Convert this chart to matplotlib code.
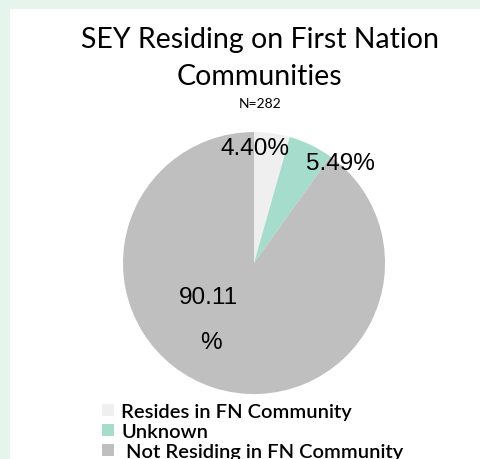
import matplotlib.pyplot as plt
from matplotlib.patches import Rectangle

# data
categories = ["Resides in FN Community", "Unknown", " Not Residing in FN Community"]
values = [4.40, 5.49, 90.11]
colors = ["#efefef", "#a6dccb", "#bfbfbf"]
title_lines = ["SEY Residing on First Nation", "Communities"]
subtitle = "N=282"

plt.rcParams["font.family"] = ["Lato", "DejaVu Sans"]

fig = plt.figure(figsize=(4.81, 4.60), dpi=100, facecolor="#e6f4ee")

# white panel inside the mint border
fig.patches.append(Rectangle((10 / 481, 0), 1, 450 / 460, transform=fig.transFigure,
                             facecolor="white", edgecolor="none", zorder=-5))

fig.text(0.54, 1 - 40 / 460, title_lines[0], ha="center", va="center", fontsize=20.5)
fig.text(0.54, 1 - 77 / 460, title_lines[1], ha="center", va="center", fontsize=20.5)
fig.text(0.54, 1 - 104 / 460, subtitle, ha="center", va="center", fontsize=10)

ax = fig.add_axes([0.528 - 0.2724, 0.426 - 0.2848, 0.545, 0.5696])
ax.set_zorder(1)
wedges, _ = ax.pie(values, colors=colors, startangle=90, counterclock=False,
                   wedgeprops=dict(linewidth=0))
ax.set_xlim(-1, 1)
ax.set_ylim(-1, 1)

lab_font = dict(fontsize=17.5, family=["Liberation Sans", "DejaVu Sans"], ha="center", va="center")
ax.text(0.01, 0.88, f"{values[0]:.2f}%", **lab_font)
ax.text(0.66, 0.76, f"{values[1]:.2f}%", **lab_font)
ax.text(-0.35, -0.26, f"{values[2]:.2f}", **lab_font)
ax.text(-0.33, -0.60, "%", **lab_font)

fig.legend(wedges, categories, loc="upper left", bbox_to_anchor=(92 / 481, 1 - 394 / 460),
           frameon=False, handlelength=0.6, handleheight=0.6, handletextpad=0.35,
           labelspacing=0.15, borderpad=0, prop=dict(size=14.5, weight="semibold"))

fig.savefig("out.png", dpi=100, facecolor=fig.get_facecolor())
